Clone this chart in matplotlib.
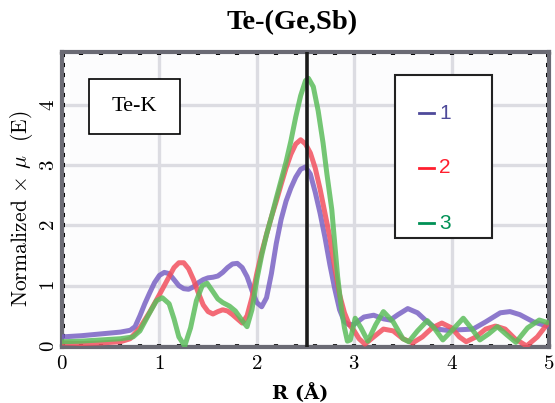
import numpy as np
import matplotlib
matplotlib.use("Agg")
import matplotlib.pyplot as plt
from matplotlib.patches import Rectangle
from matplotlib.ticker import MultipleLocator

plt.rcParams["mathtext.fontset"] = "cm"
plt.rcParams["axes.formatter.use_mathtext"] = True

# Series 1 (purple)
r1 = [0.0, 0.2, 0.4, 0.6, 0.7, 0.75, 0.8, 0.85, 0.9, 0.95, 1.0, 1.05, 1.1, 1.15, 1.2, 1.25,
      1.3, 1.35, 1.4, 1.45, 1.5, 1.55, 1.6, 1.65, 1.7, 1.75, 1.8, 1.85, 1.9, 1.95, 2.0, 2.05,
      2.1, 2.15, 2.2, 2.25, 2.3, 2.35, 2.4, 2.45, 2.5, 2.55, 2.6, 2.65, 2.7, 2.75, 2.8, 2.85,
      2.9, 2.95, 3.0, 3.05, 3.1, 3.2, 3.3, 3.37, 3.45, 3.55, 3.65, 3.75, 3.85, 3.95, 4.1,
      4.22, 4.35, 4.5, 4.6, 4.7, 4.84, 5.0]
y1 = [0.15, 0.17, 0.2, 0.23, 0.26, 0.32, 0.5, 0.7, 0.88, 1.05, 1.17, 1.22, 1.2, 1.1, 1.0, 0.95,
      0.94, 0.98, 1.05, 1.1, 1.13, 1.14, 1.16, 1.22, 1.3, 1.36, 1.37, 1.3, 1.15, 0.92, 0.72, 0.65,
      0.8, 1.2, 1.7, 2.1, 2.4, 2.62, 2.8, 2.93, 2.97, 2.85, 2.55, 2.2, 1.8, 1.35, 0.95, 0.6,
      0.4, 0.35, 0.36, 0.42, 0.48, 0.51, 0.45, 0.43, 0.52, 0.62, 0.55, 0.4, 0.28, 0.26, 0.27,
      0.28, 0.4, 0.55, 0.57, 0.52, 0.4, 0.32]

# Series 2 (red)
r2 = [0.0, 0.2, 0.4, 0.6, 0.7, 0.8, 0.9, 1.0, 1.08, 1.15, 1.2, 1.25, 1.3, 1.35, 1.4, 1.45,
      1.5, 1.55, 1.6, 1.65, 1.7, 1.75, 1.8, 1.85, 1.9, 1.95, 2.0, 2.05, 2.1, 2.15, 2.2, 2.25,
      2.3, 2.35, 2.4, 2.45, 2.5, 2.55, 2.6, 2.65, 2.7, 2.75, 2.8, 2.85, 2.9, 2.95, 3.0, 3.05,
      3.11, 3.2, 3.3, 3.4, 3.5, 3.6, 3.7, 3.8, 3.9, 4.0, 4.08, 4.15, 4.25, 4.35, 4.45, 4.55,
      4.65, 4.77, 4.88, 5.0]
y2 = [0.05, 0.04, 0.05, 0.07, 0.12, 0.3, 0.56, 0.85, 1.09, 1.3, 1.38, 1.38, 1.28, 1.1, 0.88, 0.68,
      0.57, 0.53, 0.57, 0.6, 0.58, 0.52, 0.45, 0.38, 0.5, 0.8, 1.2, 1.55, 1.85, 2.14, 2.4, 2.68,
      2.95, 3.18, 3.35, 3.42, 3.35, 3.2, 2.95, 2.6, 2.2, 1.8, 1.3, 0.85, 0.55, 0.35, 0.25, 0.12,
      0.03, 0.15, 0.28, 0.25, 0.12, 0.05, 0.15, 0.3, 0.38, 0.3, 0.15, 0.07, 0.15, 0.28, 0.33, 0.28,
      0.12, 0.0, 0.15, 0.4]

# Series 3 (green)
r3 = [0.0, 0.2, 0.4, 0.6, 0.73, 0.8, 0.9, 0.97, 1.03, 1.1, 1.15, 1.2, 1.26, 1.32, 1.38, 1.44,
      1.49, 1.55, 1.6, 1.65, 1.72, 1.78, 1.85, 1.9, 1.95, 2.0, 2.05, 2.1, 2.15, 2.2, 2.25, 2.3,
      2.35, 2.4, 2.45, 2.5, 2.53, 2.58, 2.63, 2.68, 2.72, 2.77, 2.8, 2.83, 2.87, 2.9, 2.93, 2.96,
      3.01, 3.07, 3.14, 3.22, 3.3, 3.4, 3.5, 3.56, 3.65, 3.75, 3.82, 3.91, 4.0, 4.12, 4.2, 4.29,
      4.38, 4.47, 4.57, 4.66, 4.78, 4.9, 5.0]
y3 = [0.07, 0.08, 0.1, 0.12, 0.15, 0.25, 0.55, 0.75, 0.8, 0.7, 0.45, 0.15, 0.0, 0.3, 0.75, 1.0,
      1.04, 0.9, 0.78, 0.72, 0.66, 0.58, 0.42, 0.32, 0.6, 1.1, 1.5, 1.85, 2.14, 2.45, 2.75, 3.05,
      3.4, 3.8, 4.15, 4.4, 4.44, 4.3, 3.9, 3.37, 2.85, 2.26, 1.7, 1.15, 0.6, 0.3, 0.08, 0.1,
      0.46, 0.3, 0.08, 0.35, 0.57, 0.4, 0.12, 0.07, 0.25, 0.42, 0.3, 0.1, 0.25, 0.46, 0.3, 0.1,
      0.2, 0.32, 0.18, 0.06, 0.3, 0.43, 0.38]

labels = ["1", "2", "3"]
line_colors = ["#7a62c4", "#f2505e", "#5cbd5c"]
text_colors = ["#4e4a9a", "#ff1f2f", "#009055"]
r_peak = 2.52

fig = plt.figure(figsize=(5.55, 4.03), dpi=100)
ax = fig.add_axes([0.1117, 0.139, 0.8775, 0.732])
ax.set_facecolor("#fcfcfd")

for r, y, c in zip([r1, r2, r3], [y1, y2, y3], line_colors):
    ax.plot(r, y, color=c, lw=3.6, alpha=0.85, solid_capstyle="butt", zorder=3)

ax.axvline(r_peak, color="#1a1a1a", lw=2.6, zorder=5)

ax.set_xlim(0, 5)
ax.set_ylim(-0.017, 4.876)
ax.xaxis.set_major_locator(MultipleLocator(1))
ax.yaxis.set_major_locator(MultipleLocator(1))
ax.xaxis.set_minor_locator(MultipleLocator(0.2))
ax.yaxis.set_minor_locator(MultipleLocator(1 / 6))
ax.grid(True, which="major", color="#dcdce2", lw=2.4, zorder=0)
ax.set_axisbelow(True)

for s in ax.spines.values():
    s.set_color("#6a6a74")
    s.set_linewidth(3)
ax.tick_params(which="both", direction="in", top=True, right=True,
               color="black", width=3, length=2.5)
ax.tick_params(axis="x", labelsize=15, pad=6)
ax.tick_params(axis="y", labelsize=15, pad=3)
for lab in ax.get_xticklabels() + ax.get_yticklabels():
    lab.set_fontfamily("cmr10")
for lab in ax.get_yticklabels():
    lab.set_rotation(90)
    lab.set_va("center")

ax.set_ylabel(r"Normalized $\times$ $\mu$  (E)", fontfamily="cmr10", fontsize=15.5)
ax.yaxis.set_label_coords(-0.084, 0.47)
ax.yaxis.label.set_va("center")
ax.set_xlabel("R (Å)", fontfamily="DejaVu Serif", fontweight="bold", fontsize=14)
ax.xaxis.set_label_coords(0.49, -0.156)
ax.xaxis.label.set_va("center")

fig.text(292 / 555, 1 - 23 / 403, "Te-(Ge,Sb)", ha="center", va="center",
         fontfamily="Liberation Serif", fontweight="bold", fontsize=20.5)

# Te-K label box
ax.add_patch(Rectangle((0.055, 0.722), 0.187, 0.186, transform=ax.transAxes,
                       facecolor="white", edgecolor="black", lw=1.2, zorder=6))
ax.text(0.149, 0.815, "Te-K", transform=ax.transAxes, ha="center", va="center",
        fontfamily="Liberation Serif", fontsize=16, zorder=7)

# legend box
ax.add_patch(Rectangle((0.684, 0.369), 0.199, 0.553, transform=ax.transAxes,
                       facecolor="white", edgecolor="#222222", lw=1.5, zorder=6))
for ypos, lab, c in zip([0.793, 0.607, 0.420], labels, text_colors):
    ax.plot([0.733, 0.764], [ypos, ypos], transform=ax.transAxes, color=c, lw=2, zorder=7)
    ax.text(0.774, ypos, lab, transform=ax.transAxes, ha="left", va="center",
            color=c, fontfamily="Liberation Sans", fontsize=15, zorder=7)

fig.savefig("out.png", dpi=100)
